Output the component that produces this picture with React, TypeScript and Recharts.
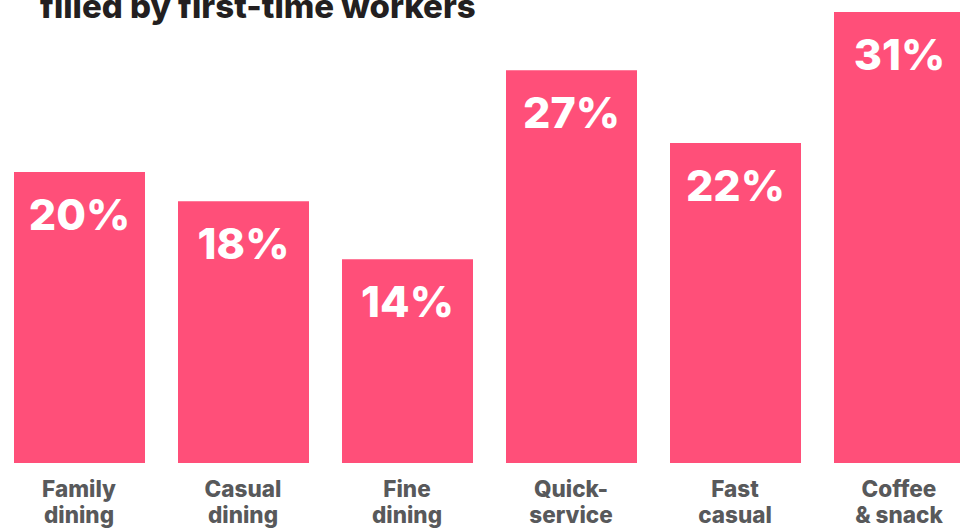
import React from 'react';
import { Bar, BarChart, LabelList, XAxis, YAxis } from 'recharts';

// share of jobs filled by first-time workers, by restaurant segment
const segments = ['Family dining', 'Casual dining', 'Fine dining', 'Quick-service', 'Fast casual', 'Coffee & snack'];
const labelLines = [
  ['Family', 'dining'],
  ['Casual', 'dining'],
  ['Fine', 'dining'],
  ['Quick-', 'service'],
  ['Fast', 'casual'],
  ['Coffee', '& snack'],
];
const shares = [20, 18, 14, 27, 22, 31];

const data = segments.map((name, i) => ({ name, share: shares[i], lines: labelLines[i] }));

const PINK = '#FF4F79';
const GREY = '#58595B';
const FONT = 'Inter, "Noto Sans", sans-serif';

function SegmentTick(props: any) {
  const { x, y, index } = props;
  const lines = labelLines[index] ?? [];
  return (
    <g>
      {lines.map((line, i) => (
        <text
          key={i}
          x={x}
          y={y + 26 + i * 26}
          textAnchor="middle"
          fill={GREY}
          fontFamily={FONT}
          fontWeight={800}
          fontSize={22.5}
        >
          {line}
        </text>
      ))}
    </g>
  );
}

function ValueLabel(props: any) {
  const { x, y, width, value } = props;
  return (
    <text
      x={x + width / 2}
      y={y + 58}
      textAnchor="middle"
      fill="#FFFFFF"
      fontFamily={FONT}
      fontWeight={800}
      fontSize={43}
    >
      {`${value}%`}
    </text>
  );
}

export default function App() {
  return (
    <div style={{ position: 'absolute', top: 0, left: 0, width: 960, height: 529, overflow: 'hidden', background: '#fff' }}>
      <div
        style={{
          position: 'absolute',
          top: -10,
          left: 40,
          fontFamily: FONT,
          fontWeight: 800,
          fontSize: 33,
          lineHeight: '33px',
          color: '#231F20',
          whiteSpace: 'nowrap',
        }}
      >
        filled by first-time workers
      </div>
      <div style={{ position: 'absolute', top: 0, left: -3.5 }}>
        <BarChart width={984} height={529} data={data} margin={{ top: 12, right: 0, bottom: 0, left: 0 }}>
          <XAxis
            dataKey="name"
            axisLine={false}
            tickLine={false}
            height={66}
            interval={0}
            tick={<SegmentTick />}
          />
          <YAxis hide domain={[0, 31]} />
          <Bar dataKey="share" fill={PINK} barSize={131} isAnimationActive={false}>
            <LabelList dataKey="share" content={<ValueLabel />} />
          </Bar>
        </BarChart>
      </div>
    </div>
  );
}
